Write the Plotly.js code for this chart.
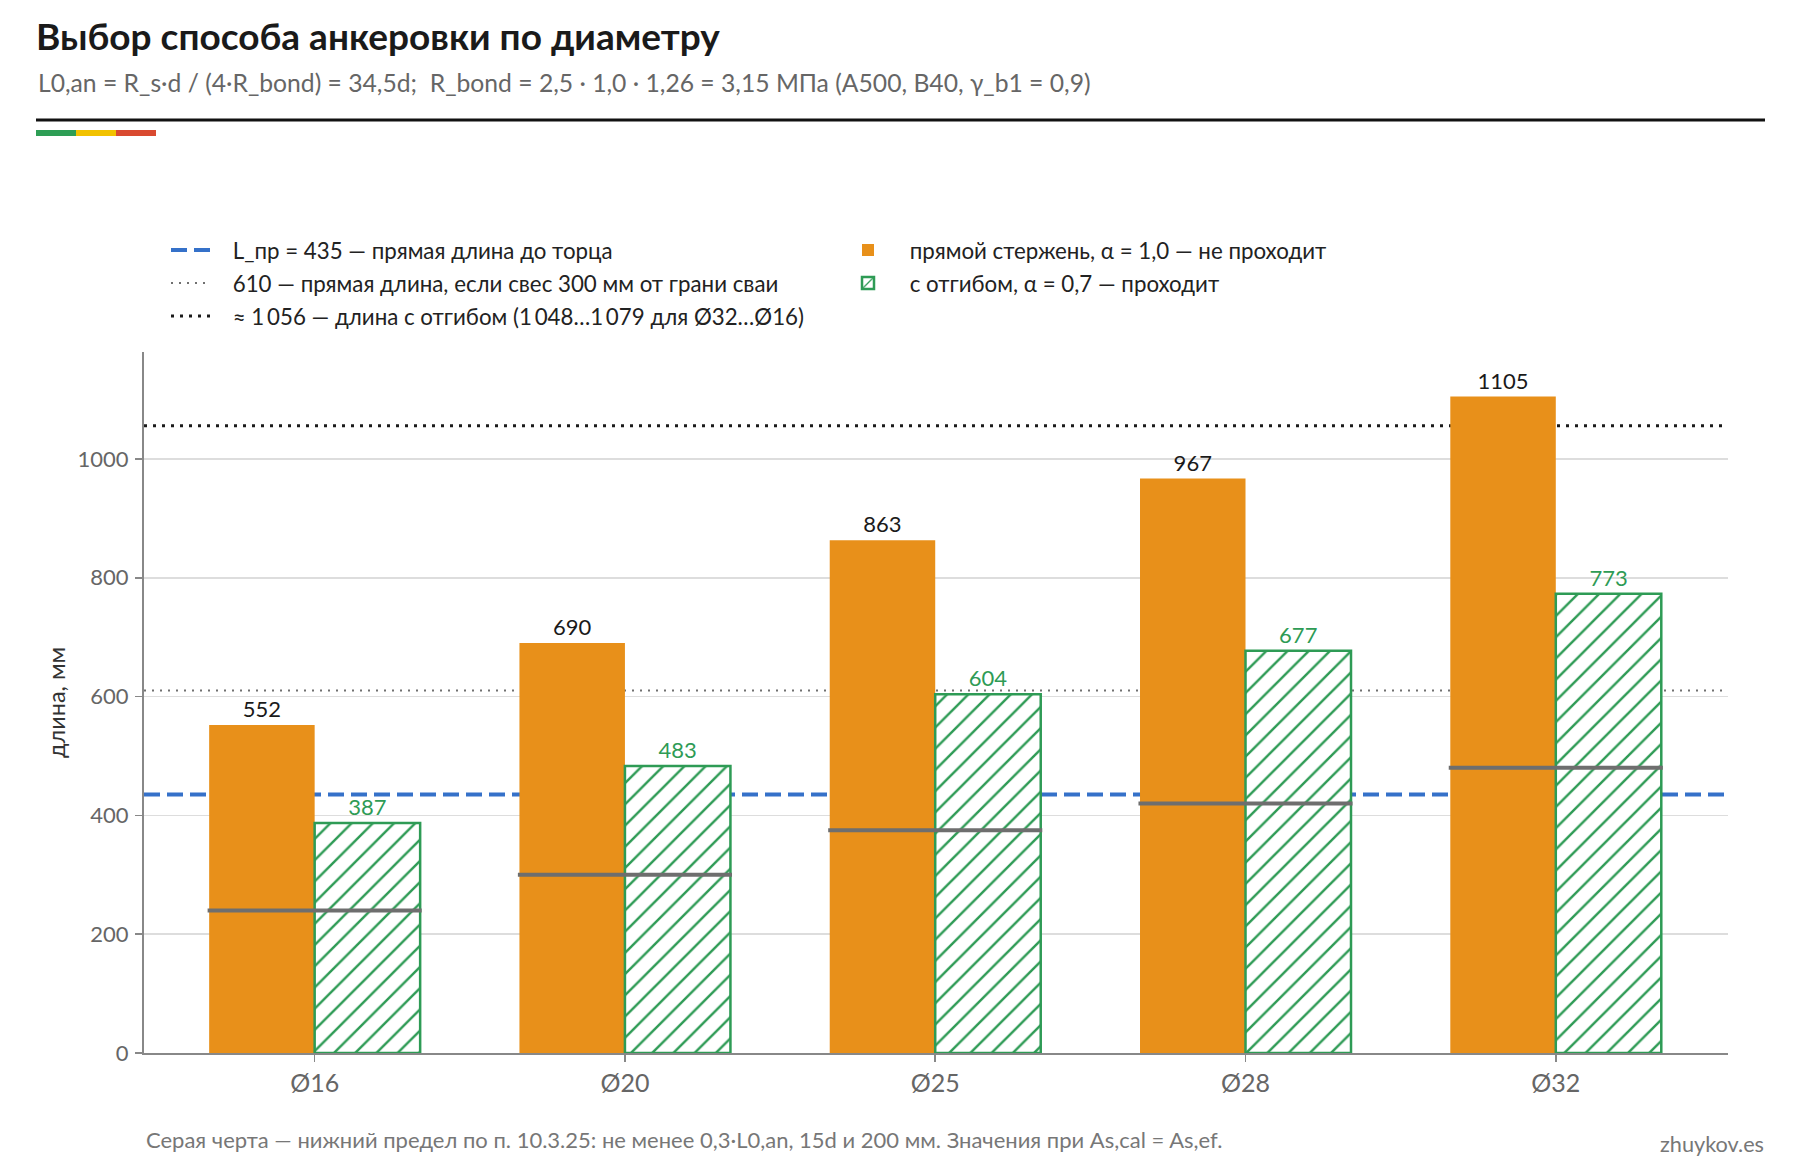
<!DOCTYPE html>
<html>
<head>
<meta charset="utf-8">
<script src="https://cdn.plot.ly/plotly-3.0.1.min.js"></script>
<style>
  html, body { margin: 0; padding: 0; background: #ffffff; }
  #chart { width: 1800px; height: 1170px; }
</style>
</head>
<body>
<div id="chart"></div>
<script>
// ---- data ----
const diameters = ['Ø16', 'Ø20', 'Ø25', 'Ø28', 'Ø32'];
const straightLen = [552, 690, 863, 967, 1105];   // прямой стержень, α = 1,0
const bentLen = [387, 483, 604, 677, 773];        // с отгибом, α = 0,7
const minLen = [240, 300, 375, 420, 480];         // нижний предел по п. 10.3.25
const refLines = [435, 610, 1056];
const refNames = [
  'L_пр = 435 — прямая длина до торца',
  '610 — прямая длина, если свес 300 мм от грани сваи',
  '≈ 1\u2009056 — длина с отгибом (1\u2009048…1\u2009079 для Ø32…Ø16)'
];
const barNames = [
  'прямой стержень, α = 1,0 — не проходит',
  'с отгибом, α = 0,7 — проходит'
];
const yTicks = [0, 200, 400, 600, 800, 1000];

// ---- layout helpers (pixel -> paper) ----
const W = 1800, H = 1170;
const M = { l: 144, r: 72, t: 352, b: 117 };
const PW = W - M.l - M.r, PH = H - M.t - M.b;
const px = x => (x - M.l) / PW;
const py = y => (H - M.b - y) / PH;
const GAP = '\u2003';

const FONT = 'Lato, "Noto Sans", "DejaVu Sans", sans-serif';
const ORANGE = '#e8901a';
const GREEN = '#2e9b55';

const traces = [
  {
    type: 'bar', x: diameters, y: straightLen, name: GAP + barNames[0],
    legend: 'legend2', legendgroup: 'b1',
    marker: { color: ORANGE, line: { width: 0 } },
    text: straightLen.map(String), textposition: 'outside', cliponaxis: false,
    textfont: { family: FONT, size: 22, color: '#1a1a1a' },
    hoverinfo: 'y'
  },
  {
    type: 'bar', x: diameters, y: bentLen, name: GAP + barNames[1],
    legend: 'legend2', legendgroup: 'b2',
    marker: {
      color: '#ffffff',
      line: { color: GREEN, width: 2.5 },
      pattern: { shape: '/', fgcolor: GREEN, bgcolor: '#ffffff', size: 15, solidity: 0.16 }
    },
    text: bentLen.map(String), textposition: 'outside', cliponaxis: false,
    textfont: { family: FONT, size: 22, color: GREEN },
    hoverinfo: 'y'
  }
];

const lineStyles = [
  { color: '#3571c9', width: 4, dash: '16px,7px' },
  { color: '#707070', width: 2, dash: '2px,6px' },
  { color: '#1a1a1a', width: 3, dash: '3px,6px' }
];

const shapes = [];
refLines.forEach((v, i) => {
  shapes.push({
    type: 'line', xref: 'paper', x0: 0, x1: 1, yref: 'y', y0: v, y1: v,
    layer: 'below', line: lineStyles[i],
    showlegend: true, legend: 'legend', legendgroup: 'r' + i, name: GAP + refNames[i], legendrank: i + 1
  });
});
minLen.forEach((v, i) => {
  shapes.push({
    type: 'line', xref: 'x', x0: i - 0.345, x1: i + 0.345, yref: 'y', y0: v, y1: v,
    layer: 'above', line: { color: '#6e6e6e', width: 4 }
  });
});
// header rule and colour strip
shapes.push({ type: 'line', xref: 'paper', yref: 'paper', x0: px(36), x1: px(1765), y0: py(120), y1: py(120),
  line: { color: '#111111', width: 3 } });
[['#2e9e55', 36, 76], ['#f2c200', 76, 116], ['#d94a30', 116, 156]].forEach(s => {
  shapes.push({ type: 'line', xref: 'paper', yref: 'paper', x0: px(s[1]), x1: px(s[2]), y0: py(133), y1: py(133),
    line: { color: s[0], width: 6 } });
});

const legendCommon = {
  xanchor: 'left', yanchor: 'top',
  bgcolor: 'rgba(0,0,0,0)', borderwidth: 0, itemwidth: 40, tracegroupgap: 1,
  font: { family: FONT, size: 22.3, color: '#222222' }
};

const layout = {
  width: W, height: H,
  margin: M,
  paper_bgcolor: '#ffffff', plot_bgcolor: '#ffffff',
  font: { family: FONT, color: '#222222', size: 20 },
  title: {
    text: '<b>Выбор способа анкеровки по диаметру</b>',
    xref: 'container', yref: 'container', x: 36 / W, xanchor: 'left',
    y: 1 - 37 / H, yanchor: 'middle',
    font: { family: FONT, size: 37, color: '#1a1a1a' }
  },
  barmode: 'group', bargap: 0.32, bargroupgap: 0,
  showlegend: true,
  legend: Object.assign({ x: px(166), y: py(229) }, legendCommon),
  legend2: Object.assign({ x: px(843), y: py(229) }, legendCommon),
  xaxis: {
    type: 'category', range: [-0.55, 4.555],
    showline: true, linecolor: '#888888', linewidth: 2,
    ticks: 'outside', ticklen: 7, tickcolor: '#888888', tickwidth: 1.5,
    tickfont: { family: FONT, size: 25, color: '#666666' },
    showgrid: false, zeroline: false, fixedrange: true
  },
  yaxis: {
    range: [0, 1180], tickvals: yTicks, ticktext: yTicks.map(String),
    showline: true, linecolor: '#888888', linewidth: 2,
    ticks: 'outside', ticklen: 7, tickcolor: '#888888', tickwidth: 1.5,
    ticklabelstandoff: 2,
    tickfont: { family: FONT, size: 22, color: '#666666' },
    showgrid: true, gridcolor: '#dddddd', gridwidth: 1.5, zeroline: false,
    title: { text: 'длина, мм', font: { family: FONT, size: 23.5, color: '#333333' }, standoff: 5 },
    fixedrange: true
  },
  shapes: shapes,
  annotations: [
    {
      text: 'L0,an = R_s·d / (4·R_bond) = 34,5d;\u00A0 R_bond = 2,5 · 1,0 · 1,26 = 3,15 МПа (A500, B40, γ_b1 = 0,9)',
      xref: 'paper', yref: 'paper', x: px(36), y: py(83), xanchor: 'left', yanchor: 'middle',
      showarrow: false, font: { family: FONT, size: 24.7, color: '#666666' }
    },
    {
      text: 'Серая черта — нижний предел по п. 10.3.25: не менее 0,3·L0,an, 15d и 200 мм. Значения при As,cal = As,ef.',
      xref: 'paper', yref: 'paper', x: px(144), y: py(1139), xanchor: 'left', yanchor: 'middle',
      showarrow: false, font: { family: FONT, size: 22, color: '#777777' }
    },
    {
      text: 'zhuykov.es',
      xref: 'paper', yref: 'paper', x: px(1766), y: py(1144), xanchor: 'right', yanchor: 'middle',
      showarrow: false, font: { family: FONT, size: 21.7, color: '#777777' }
    }
  ]
};

Plotly.newPlot('chart', traces, layout, { displayModeBar: false, staticPlot: true });
</script>
</body>
</html>
